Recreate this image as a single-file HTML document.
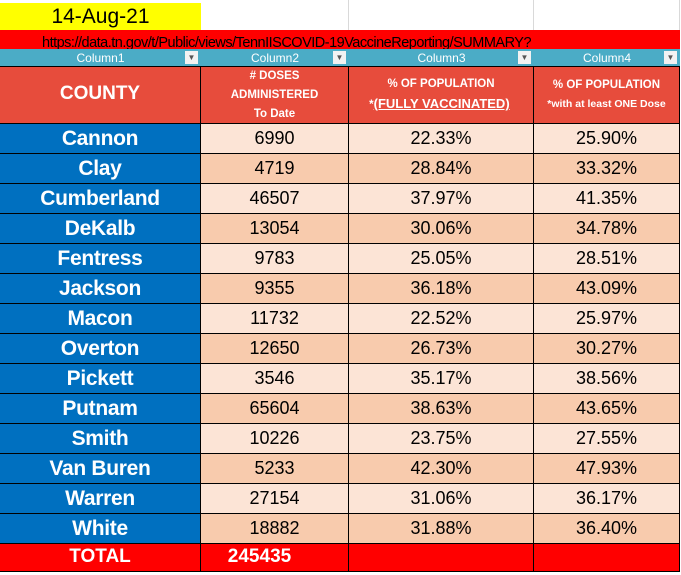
<!DOCTYPE html>
<html><head><meta charset="utf-8"><style>
body{margin:0;width:681px;height:575px;background:#fff;position:relative;overflow:hidden;font-family:"Liberation Sans",sans-serif}
.a{position:absolute;box-sizing:border-box}
.c{display:flex;align-items:center;justify-content:center;text-align:center}
.grid{border-right:1px solid #d9d9d9}
.cell{border-right:1px solid #000;border-bottom:1px solid #000}
.nm{color:#fff;font-weight:bold;font-size:21px;letter-spacing:-0.3px}
.val{color:#000;font-size:18px}
.hd{color:#fff;font-weight:bold;font-size:11.5px;line-height:19px}
.flt{color:#fff;font-size:12px;background:#4bacc6}
.dd{position:absolute;right:3px;top:2px;width:13px;height:13px;background:#f2f2f2;color:#555;font-size:8px;line-height:13px;text-align:center}
</style></head><body>
<div class="a grid" style="left:201px;top:0;width:148px;height:30px"></div>
<div class="a grid" style="left:349px;top:0;width:185px;height:30px"></div>
<div class="a grid" style="left:534px;top:0;width:146px;height:30px"></div>
<div class="a c" style="left:0;top:3px;width:201px;height:27px;background:#ffff00;font-size:21px">14-Aug-21</div>
<div class="a" style="left:0;top:30px;width:680px;height:19px;background:#ff0000"></div>
<div class="a" style="left:42px;top:35px;font-size:14.5px;color:#000;white-space:nowrap;letter-spacing:-0.5px">https://data.tn.gov/t/Public/views/TennIISCOVID-19VaccineReporting/SUMMARY?</div>
<div id="tbl"></div>
<script>
const counties=["Cannon","Clay","Cumberland","DeKalb","Fentress","Jackson","Macon","Overton","Pickett","Putnam","Smith","Van Buren","Warren","White"];
const doses=[6990,4719,46507,13054,9783,9355,11732,12650,3546,65604,10226,5233,27154,18882];
const fully=["22.33%","28.84%","37.97%","30.06%","25.05%","36.18%","22.52%","26.73%","35.17%","38.63%","23.75%","42.30%","31.06%","31.88%"];
const oneDose=["25.90%","33.32%","41.35%","34.78%","28.51%","43.09%","25.97%","30.27%","38.56%","43.65%","27.55%","47.93%","36.17%","36.40%"];
const total="245435";
const colX=[0,201,349,534,680];
const T=document.getElementById('tbl');
function mk(x,y,w,h,cls,html,bg){const d=document.createElement('div');d.className='a c '+cls;d.style.left=x+'px';d.style.top=y+'px';d.style.width=w+'px';d.style.height=h+'px';if(bg)d.style.background=bg;d.innerHTML='<div>'+html+'</div>';T.appendChild(d);return d;}
for(let i=0;i<4;i++){
  const d=mk(colX[i],49,colX[i+1]-colX[i],17,'flt','Column'+(i+1)+'<span class="dd">&#9660;</span>');
  
  
}
const heads=['<span style="font-size:19px">COUNTY</span>','# DOSES<br>ADMINISTERED<br>To Date','% OF POPULATION<br>*<u style="font-size:13px">(FULLY VACCINATED)</u>&nbsp;','% OF POPULATION<br><span style="font-size:10.5px;white-space:nowrap">*with at least ONE Dose</span>'];
for(let i=0;i<4;i++){
  const d=mk(colX[i],66,colX[i+1]-colX[i],58,'cell hd',heads[i],'#e74c3c');
  d.style.borderTop='1px solid #000';
  
  
}
counties.forEach((c,r)=>{
  const y=124+r*30, bg=r%2?'#f8cbad':'#fce4d6';
  let d=mk(0,y,201,30,'cell nm',c,'#0070c0');
  
  
  d=mk(201,y,148,30,'cell val',String(doses[r]),bg);
  
  
  d=mk(349,y,185,30,'cell val',fully[r],bg);
  
  
  d=mk(534,y,146,30,'cell val',oneDose[r],bg);
  
  
});
const ty=124+counties.length*30;
let t=mk(0,ty,201,28,'cell hd','<span style="font-size:19px">TOTAL</span>','#ff0000');


t=mk(201,ty,148,28,'cell hd','<span style="font-size:19px;margin-right:30px">'+total+'</span>','#ff0000');


t=mk(349,ty,185,28,'cell','','#ff0000');


t=mk(534,ty,146,28,'cell','','#ff0000');


</script>
</body></html>
